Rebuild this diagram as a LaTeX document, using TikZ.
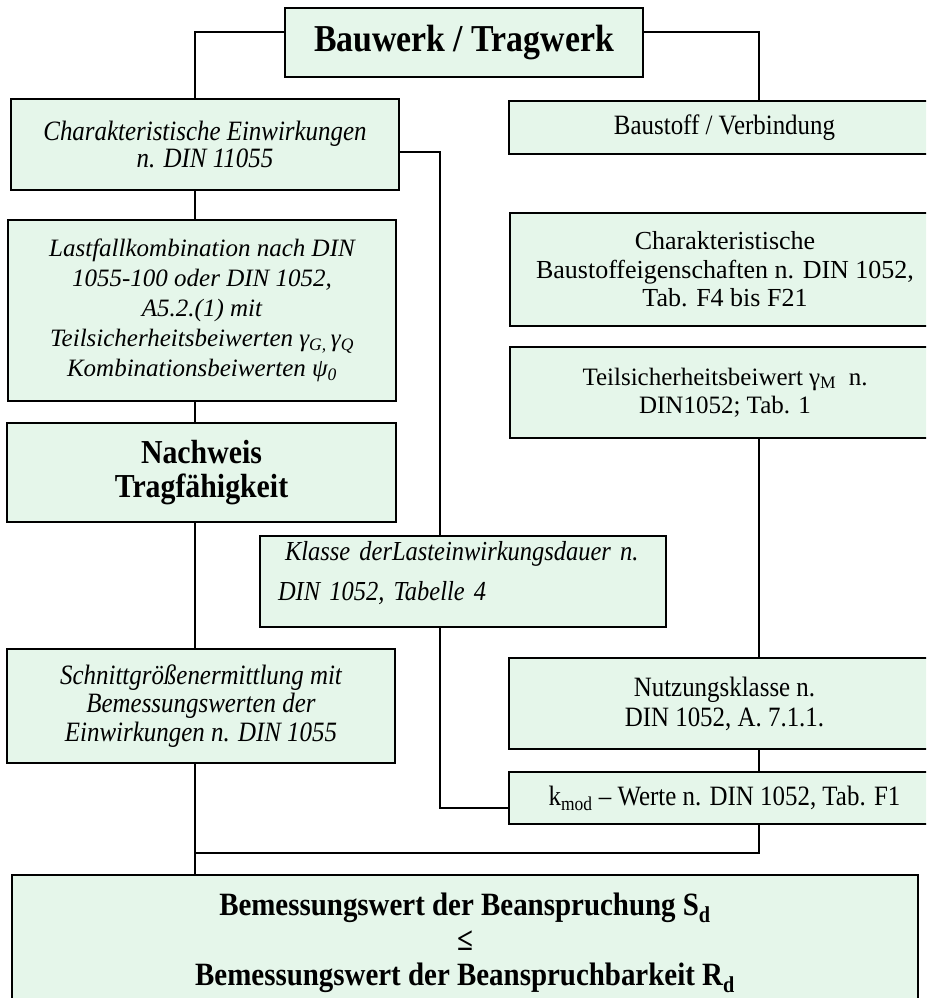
\documentclass[tikz,border=0pt]{standalone}
\usepackage{fontspec}
\setmainfont{Liberation Serif}
\newfontfamily\condfont[FakeStretch=0.89]{Liberation Serif}
\definecolor{boxfill}{RGB}{229,246,234}
\tikzset{
  box/.style={draw=black, line width=1.7pt, fill=boxfill, inner sep=0pt, outer sep=0pt, align=center},
  conn/.style={line width=1.4pt, black},
}
\begin{document}
\begin{tikzpicture}[x=1pt,y=-1pt]
\clip (0,0) rectangle (926,998);
\fill[white] (0,0) rectangle (926,998);
\coordinate (colL) at (195,0);
\coordinate (colM) at (440,0);
\coordinate (colR) at (759,0);
\coordinate (join) at (195,853);

\node[box, minimum width=358pt, minimum height=69pt, font=\condfont\fontsize{38}{42}\selectfont\bfseries] (bau) at (464,42.5) {Bauwerk / Tragwerk};
\node[box, minimum width=388pt, minimum height=91pt, font=\condfont\fontsize{28}{27.5}\selectfont\itshape] (einw) at (205,144.5) {Charakteristische Einwirkungen\\n. DIN 11055};
\node[box, minimum width=431pt, minimum height=53pt, font=\condfont\fontsize{28}{30}\selectfont] (baust) at (724.5,127.5) {Baustoff / Verbindung};
\node[box, minimum width=388pt, minimum height=181pt, font=\fontsize{25}{30}\selectfont\itshape] (last) at (202,310.5) {Lastfallkombination nach DIN\\1055-100 oder DIN 1052,\\A5.2.(1) mit\\Teilsicherheitsbeiwerten γ\textsubscript{G,}\,γ\textsubscript{Q}\\Kombinationsbeiwerten ψ\textsubscript{0}};
\node[box, minimum width=389pt, minimum height=99pt, font=\condfont\fontsize{33.5}{34}\selectfont\bfseries] (nach) at (201.5,472.5) {Nachweis\\Tragfähigkeit};
\node[box, minimum width=430pt, minimum height=113pt, font=\fontsize{26}{28.5}\selectfont] (charb) at (725,269.5) {Charakteristische\\Baustoffeigenschaften n. DIN 1052,\\Tab. F4 bis F21};
\node[box, minimum width=430pt, minimum height=91pt, font=\fontsize{25}{28}\selectfont] (teil) at (725,392.5) {Teilsicherheitsbeiwert γ\textsubscript{M}\ \ n.\\DIN1052; Tab. 1};
\node[box, minimum width=406pt, minimum height=91pt] (klasse) at (463,581.5) {};
\node[inner sep=0pt, text width=370pt, align=left, font=\condfont\fontsize{27.5}{40}\selectfont\itshape, anchor=center] (klassetxt) at (463,573) {\hspace*{7pt}Klasse derLasteinwirkungsdauer n.\\DIN 1052, Tabelle 4};
\node[box, minimum width=388pt, minimum height=114pt, font=\condfont\fontsize{28}{28.3}\selectfont\itshape] (schnitt) at (201,706) {Schnittgrößenermittlung mit\\Bemessungswerten der\\Einwirkungen n. DIN 1055};
\node[box, minimum width=431pt, minimum height=91pt, font=\condfont\fontsize{28}{30}\selectfont] (nutz) at (724.5,703.5) {Nutzungsklasse n.\\DIN 1052, A. 7.1.1.};
\node[box, minimum width=431pt, minimum height=52pt, font=\condfont\fontsize{28}{30}\selectfont] (kmod) at (724.5,798) {k\textsubscript{mod} – Werte n. DIN 1052, Tab. F1};
\node[box, minimum width=906pt, minimum height=135pt, font=\condfont\fontsize{32.5}{35}\selectfont\bfseries] (bem) at (465,942.5) {Bemessungswert der Beanspruchung S\textsubscript{d}\\≤\\Bemessungswert der Beanspruchbarkeit R\textsubscript{d}};

\draw[conn] ([yshift=10.5pt]bau.west) -| (einw.north -| colL);
\draw[conn] ([yshift=10.5pt]bau.east) -| (baust.north -| colR);
\draw[conn] (einw.south -| colL) -- (last.north -| colL);
\draw[conn] (last.south -| colL) -- (nach.north -| colL);
\draw[conn] (nach.south -| colL) -- (schnitt.north -| colL);
\draw[conn] (schnitt.south -| colL) -- (bem.north -| colL);
\draw[conn] ([yshift=-7.5pt]einw.east) -| (klasse.north -| colM);
\draw[conn] (klasse.south -| colM) |- ([yshift=-10pt]kmod.west);
\draw[conn] (teil.south -| colR) -- (nutz.north -| colR);
\draw[conn] (nutz.south -| colR) -- (kmod.north -| colR);
\draw[conn] (kmod.south -| colR) |- (join);
\end{tikzpicture}
\end{document}
